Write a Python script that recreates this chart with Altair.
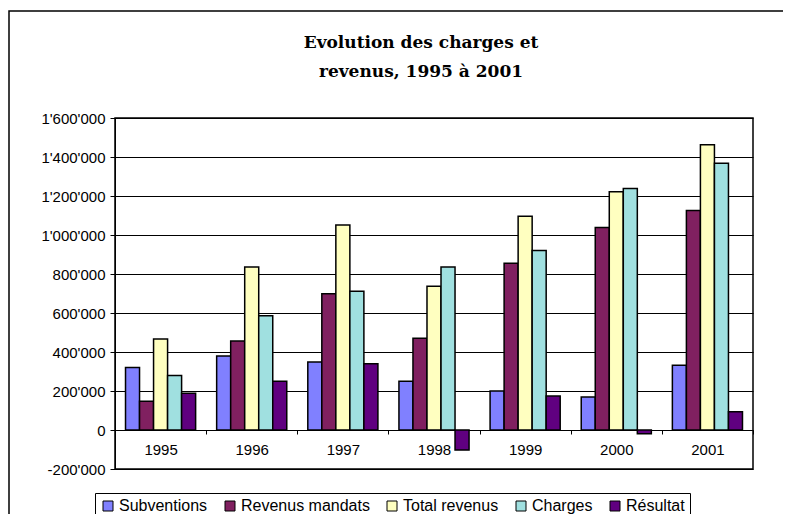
import altair as alt
import pandas as pd

years = ["1995", "1996", "1997", "1998", "1999", "2000", "2001"]
series = ["Subventions", "Revenus mandats", "Total revenus", "Charges", "Résultat"]
subventions = [320000, 379000, 349000, 250000, 200000, 169000, 332000]
revenus_mandats = [147000, 456000, 699000, 470000, 855000, 1038000, 1126000]
total_revenus = [467000, 836000, 1051000, 737000, 1096000, 1222000, 1463000]
charges = [279000, 586000, 711000, 836000, 921000, 1239000, 1368000]
resultat = [188000, 250000, 340000, -103000, 174000, -19000, 94000]
colors = ["#8080FF", "#802060", "#FFFFC0", "#A0E0E0", "#600080"]
title_lines = ["Evolution des charges et", "revenus, 1995 à 2001"]

values = [subventions, revenus_mandats, total_revenus, charges, resultat]
rows = []
for s, vals in zip(series, values):
    for y, v in zip(years, vals):
        rows.append({"year": y, "series": s, "value": v})
df = pd.DataFrame(rows)

W, H = 638, 351

ylabel_expr = "replace(replace(format(datum.value, ','), regexp(',', 'g'), \"'\"), '\u2212', '-')"

bars = alt.Chart(df).mark_bar(stroke="black", strokeWidth=1.5).encode(
    x=alt.X("year:N", sort=years, title=None,
            scale=alt.Scale(paddingInner=0, paddingOuter=0),
            axis=alt.Axis(offset=-39, labelAngle=0, domainColor="black", tickColor="black",
                          tickBand="extent", tickSize=4, labelPadding=8,
                          labelFont="Liberation Sans", labelFontSize=15, labelColor="black",
                          grid=False)),
    xOffset=alt.XOffset("series:N", sort=series,
                        scale=alt.Scale(paddingOuter=0.75, paddingInner=0)),
    y=alt.Y("value:Q", title=None,
            scale=alt.Scale(domain=[-200000, 1600000], nice=False),
            axis=alt.Axis(values=list(range(-200000, 1600001, 200000)),
                          labelExpr=ylabel_expr,
                          grid=True, gridColor="black", gridOpacity=1, gridWidth=1,
                          domainColor="black", tickColor="black", tickSize=5, labelPadding=5,
                          labelFont="Liberation Sans", labelFontSize=15, labelColor="black")),
    color=alt.Color("series:N", sort=series,
                    scale=alt.Scale(domain=series, range=colors),
                    legend=alt.Legend(title=None, orient="none", legendX=-20, legendY=375,
                                      direction="horizontal", strokeColor="black", fillColor="white",
                                      padding=5, symbolType="square", symbolSize=100,
                                      symbolStrokeColor="black", symbolStrokeWidth=1,
                                      symbolOpacity=1,
                                      labelFont="Liberation Sans", labelFontSize=16,
                                      labelColor="black", columnPadding=14, labelOffset=3)),
)

title_df = pd.DataFrame({"t": ["\n".join(title_lines)]})
title = alt.Chart(title_df).mark_text(
    font="DejaVu Serif", fontSize=17, fontWeight="bold", color="black",
    lineBreak="\n", lineHeight=29, align="center", baseline="middle"
).encode(text="t:N", x=alt.value(306), y=alt.value(-75))

frame_df = pd.DataFrame({"k": ["frame"]})
frame = alt.Chart(frame_df).mark_rect(
    fillOpacity=0, stroke="black", strokeWidth=1.5
).encode(x=alt.value(-106), x2=alt.value(720), y=alt.value(-107), y2=alt.value(440))

chart = alt.layer(frame, title, bars).properties(
    width=W, height=H,
    autosize=alt.AutoSizeParams(type="none"),
    padding={"left": 107, "top": 110, "right": 30, "bottom": 45},
).configure_view(stroke="black", strokeWidth=1.5)

chart.save("out.html", embed_options={"renderer": "svg", "actions": False})
